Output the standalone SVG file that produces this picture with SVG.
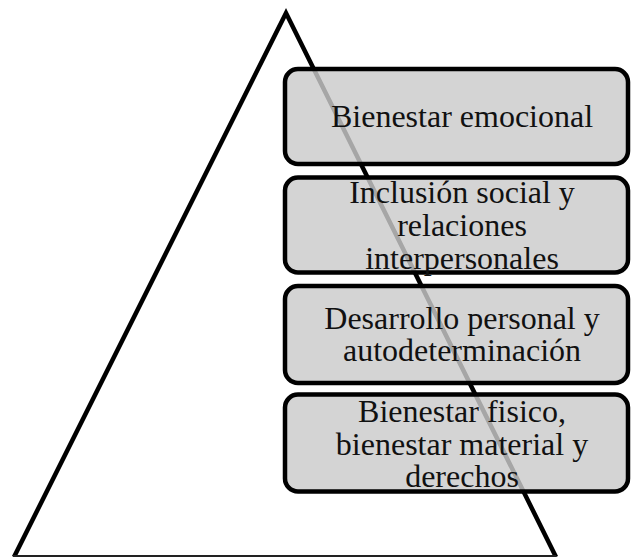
<svg xmlns="http://www.w3.org/2000/svg" width="631" height="557" viewBox="0 0 631 557">
<style>
.box{fill:#cbcbcb;fill-opacity:0.82;stroke:#000;stroke-width:4.5}
.lbl{font-family:"Liberation Serif","Times New Roman",serif;font-size:32px;fill:#111;text-anchor:middle}
</style>
<rect width="631" height="557" fill="#fff"/>
<g id="pyramid">
<polyline points="14,557 286,13 556,557" fill="none" stroke="#000" stroke-width="4.5" stroke-linejoin="miter"/>
<line x1="13" y1="556" x2="556" y2="556" stroke="#222" stroke-width="2"/>
</g>
<g id="connectors"></g>
<g id="n1">
<rect class="box" x="285" y="69" width="343" height="95" rx="13"/>
<text class="lbl" x="462" y="127">Bienestar emocional</text>
</g>
<g id="n2">
<rect class="box" x="285" y="177.5" width="343" height="95" rx="13"/>
<text class="lbl" x="462" y="202.5">Inclusión social y</text>
<text class="lbl" x="462" y="235.5">relaciones</text>
<text class="lbl" x="462" y="268.5">interpersonales</text>
</g>
<g id="n3">
<rect class="box" x="285" y="286" width="343" height="97" rx="13"/>
<text class="lbl" x="462" y="328.5">Desarrollo personal y</text>
<text class="lbl" x="462" y="361">autodeterminación</text>
</g>
<g id="n4">
<rect class="box" x="285" y="394.5" width="343" height="97" rx="13"/>
<text class="lbl" x="462" y="421.5">Bienestar fisico,</text>
<text class="lbl" x="462" y="454.5">bienestar material y</text>
<text class="lbl" x="462" y="487">derechos</text>
</g>
</svg>
